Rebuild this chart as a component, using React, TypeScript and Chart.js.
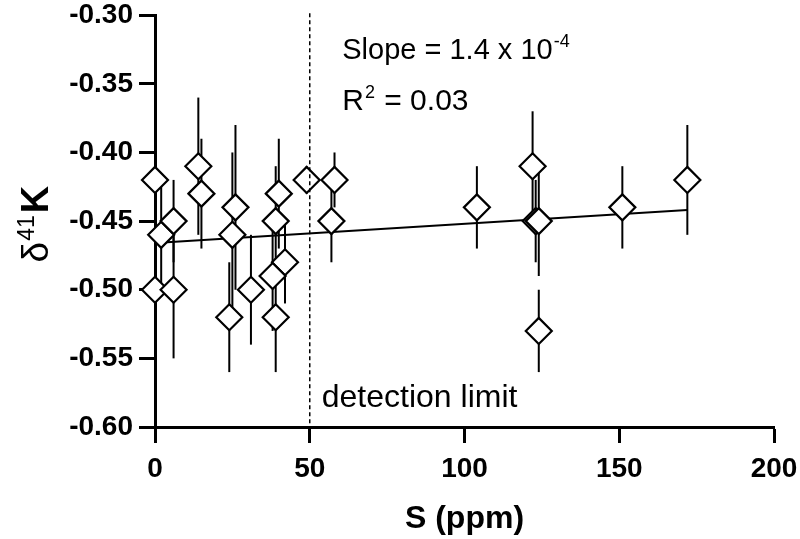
import React, { useEffect, useRef } from "react";
import { Chart, registerables } from "chart.js";

Chart.register(...registerables);

// S (ppm) of each sample
const sulfurPpm = [0, 2, 0, 6, 6, 14, 15, 26, 25, 24, 31, 40, 39, 42, 38, 39, 49, 58, 57, 104, 122, 123, 124, 124, 151, 172];
// δ41K values
const delta41K = [-0.42, -0.46, -0.50, -0.45, -0.50, -0.41, -0.43, -0.44, -0.46, -0.52, -0.50, -0.43, -0.45, -0.48, -0.49, -0.52, -0.42, -0.42, -0.45, -0.44, -0.41, -0.45, -0.45, -0.53, -0.44, -0.42];
// error bar half-lengths
const delta41KErr = [0.03, 0.045, 0.03, 0.03, 0.05, 0.05, 0.04, 0.06, 0.06, 0.04, 0.04, 0.04, 0.04, 0.03, 0.04, 0.04, 0.01, 0.02, 0.03, 0.03, 0.04, 0.03, 0.04, 0.03, 0.03, 0.04];
// regression line end points
const regressionX = [0, 172];
const regressionY = [-0.466, -0.442];
// detection limit
const detectionLimit = 50;
// axis ticks
const xTicks = [0, 50, 100, 150, 200];
const yTicks = [-0.6, -0.55, -0.5, -0.45, -0.4, -0.35, -0.3];

const FONT = "'Liberation Sans', Arial, Helvetica, sans-serif";

const overlayPlugin = {
  id: "overlay",
  beforeDatasetsDraw(chart: any) {
    const { ctx, scales } = chart;
    const xs = scales.x;
    const ys = scales.y;
    ctx.save();
    ctx.strokeStyle = "#000";
    ctx.lineWidth = 2;
    for (let i = 0; i < sulfurPpm.length; i++) {
      const px = xs.getPixelForValue(sulfurPpm[i]);
      const y1 = ys.getPixelForValue(delta41K[i] - delta41KErr[i]);
      const y2 = ys.getPixelForValue(delta41K[i] + delta41KErr[i]);
      ctx.beginPath();
      ctx.moveTo(px, y1);
      ctx.lineTo(px, y2);
      ctx.stroke();
    }
    ctx.restore();
  },
  afterDatasetsDraw(chart: any) {
    const { ctx, scales, chartArea } = chart;
    const xs = scales.x;
    const px = xs.getPixelForValue(detectionLimit);
    ctx.save();
    ctx.strokeStyle = "#000";
    ctx.lineWidth = 1.5;
    ctx.setLineDash([4, 3]);
    ctx.beginPath();
    ctx.moveTo(px, chartArea.top - 2);
    ctx.lineTo(px, chartArea.bottom);
    ctx.stroke();
    ctx.restore();
  },
  afterDraw(chart: any) {
    const { ctx, scales, chartArea } = chart;
    const xs = scales.x;
    ctx.save();
    ctx.fillStyle = "#000";
    ctx.textBaseline = "alphabetic";
    ctx.textAlign = "left";
    // annotations
    const ax = xs.getPixelForValue(60.5);
    ctx.font = `29px ${FONT}`;
    const t1 = "Slope = 1.4 x 10";
    ctx.fillText(t1, ax, 59);
    const w1 = ctx.measureText(t1).width;
    ctx.font = `18px ${FONT}`;
    ctx.fillText("-4", ax + w1 + 1, 47);
    ctx.font = `30px ${FONT}`;
    ctx.fillText("R", ax, 110);
    const wr = ctx.measureText("R").width;
    ctx.font = `18px ${FONT}`;
    ctx.fillText("2", ax + wr + 1, 98);
    const w2 = ctx.measureText("2").width;
    ctx.font = `30px ${FONT}`;
    ctx.fillText(" = 0.03", ax + wr + w2 + 2, 110);
    // detection limit label
    const dx = xs.getPixelForValue(detectionLimit) + 12;
    ctx.font = `32px ${FONT}`;
    ctx.fillText("detection limit", dx, 407);

    // y-axis title  δ41K
    const cy = (chartArea.top + chartArea.bottom) / 2 + 3;
    ctx.translate(48, cy);
    ctx.rotate(-Math.PI / 2);
    const fd = `37px ${FONT}`;
    const fs = `23px ${FONT}`;
    const fk = `bold 38px ${FONT}`;
    ctx.font = fd;
    const wd = ctx.measureText("δ").width;
    ctx.font = fs;
    const ws = ctx.measureText("41").width;
    ctx.font = fk;
    const wk = ctx.measureText("K").width;
    const total = wd + ws + wk + 3;
    let x0 = -total / 2;
    ctx.font = fd;
    ctx.fillText("δ", x0, 0);
    x0 += wd + 1;
    ctx.font = fs;
    ctx.fillText("41", x0, -14);
    x0 += ws + 2;
    ctx.font = fk;
    ctx.fillText("K", x0, 0);
    ctx.restore();
  },
};

export default function App() {
  const ref = useRef<HTMLCanvasElement | null>(null);
  useEffect(() => {
    if (!ref.current) return;
    const chart = new Chart(ref.current, {
      type: "scatter",
      data: {
        datasets: [
          {
            type: "scatter",
            label: "δ41K",
            data: sulfurPpm.map((s, i) => ({ x: s, y: delta41K[i] })),
            pointStyle: "rectRot",
            pointRadius: 13,
            pointHoverRadius: 13,
            pointBorderWidth: 2.2,
            pointBackgroundColor: "#fff",
            pointBorderColor: "#000",
            clip: false,
            order: 0,
          },
          {
            type: "line",
            label: "fit",
            data: regressionX.map((x, i) => ({ x, y: regressionY[i] })),
            borderColor: "#000",
            borderWidth: 2,
            pointRadius: 0,
            fill: false,
            showLine: true,
            clip: false,
            order: 1,
          },
        ],
      },
      options: {
        responsive: false,
        animation: false,
        events: [],
        layout: { padding: { top: 15, right: 26, bottom: 0, left: 0 } },
        plugins: {
          legend: { display: false },
          tooltip: { enabled: false },
          title: { display: false },
        },
        scales: {
          x: {
            type: "linear",
            min: 0,
            max: 200,
            afterFit: (s: any) => {
              s.height = 112;
              s.paddingLeft = 0;
              s.paddingRight = 0;
            },
            afterBuildTicks: (s: any) => {
              s.ticks = xTicks.map((v) => ({ value: v }));
            },
            ticks: {
              color: "#000",
              font: { family: FONT, size: 28, weight: "bold" },
              padding: 9,
              maxRotation: 0,
            },
            grid: {
              drawOnChartArea: false,
              color: "#000",
              tickLength: 16,
              tickWidth: 3,
            },
            border: { display: true, color: "#000", width: 3 },
            title: {
              display: true,
              text: "S (ppm)",
              color: "#000",
              font: { family: FONT, size: 32, weight: "bold" },
              padding: { top: 0, bottom: 1 },
            },
          },
          y: {
            type: "linear",
            min: -0.6,
            max: -0.3,
            afterFit: (s: any) => {
              s.width = 155;
              s.paddingTop = 0;
              s.paddingBottom = 0;
            },
            afterBuildTicks: (s: any) => {
              s.ticks = yTicks.map((v) => ({ value: v }));
            },
            ticks: {
              color: "#000",
              font: { family: FONT, size: 28, weight: "bold" },
              padding: 6,
              callback: (v: any) => Number(v).toFixed(2),
            },
            grid: {
              drawOnChartArea: false,
              color: "#000",
              tickLength: 16,
              tickWidth: 3,
            },
            border: { display: true, color: "#000", width: 3 },
          },
        },
      },
      plugins: [overlayPlugin],
    });
    return () => chart.destroy();
  }, []);
  return (
    <div style={{ position: "absolute", left: 0, top: 0, width: 800, height: 539, background: "#fff" }}>
      <canvas ref={ref} width={800} height={539} style={{ display: "block" }} />
    </div>
  );
}
